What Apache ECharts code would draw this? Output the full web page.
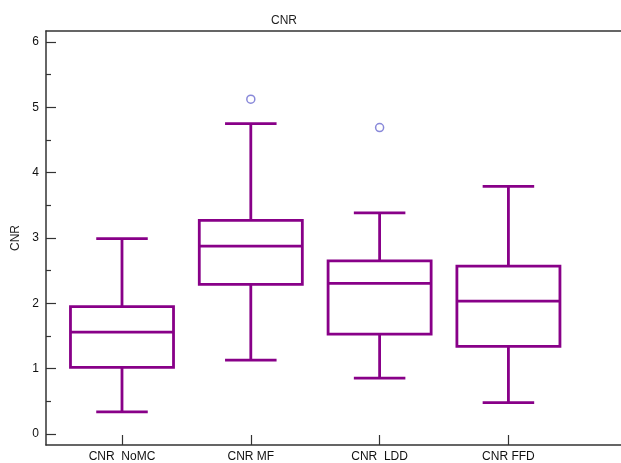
<!DOCTYPE html>
<html>
<head>
<meta charset="utf-8">
<script src="https://cdn.jsdelivr.net/npm/echarts@6/dist/echarts.min.js"></script>
<style>html,body{margin:0;padding:0;background:#fff}#c{width:621px;height:463px}</style>
</head>
<body>
<div id="c"></div>
<script>
var categories = ['CNR  NoMC', 'CNR MF', 'CNR  LDD', 'CNR FFD'];
var whiskerLow = [0.34, 1.13, 0.855, 0.48];
var q1 = [1.02, 2.29, 1.53, 1.34];
var median = [1.56, 2.875, 2.305, 2.035];
var q3 = [1.95, 3.27, 2.65, 2.57];
var whiskerHigh = [2.99, 4.75, 3.385, 3.79];
var outlierCat = [1, 2];
var outlierVal = [5.125, 4.69];
var yTicks = [0, 1, 2, 3, 4, 5, 6];
var yMinorTicks = [0.5, 1.5, 2.5, 3.5, 4.5, 5.5];

var boxData = categories.map(function (c, i) {
  return [i + 1, whiskerLow[i], q1[i], median[i], q3[i], whiskerHigh[i]];
});
var outData = outlierCat.map(function (ci, k) { return [ci + 1, outlierVal[k]]; });
var catPos = categories.map(function (c, i) { return i + 1; });

var LINE = '#880088';
var XMIN = 0.41, XMAX = 4.874;
var chart = echarts.init(document.getElementById('c'), null, {renderer: 'canvas'});
chart.setOption({
  animation: false,
  backgroundColor: '#fff',
  title: {
    text: 'CNR', left: 266, top: 10,
    textStyle: {fontFamily: 'Liberation Sans, Arial', fontSize: 12, fontWeight: 'normal', color: '#222'}
  },
  grid: {left: 46, top: 31, right: 0, bottom: 17, show: false},
  xAxis: [{
    type: 'value', min: XMIN, max: XMAX,
    splitLine: {show: false},
    axisLine: {show: true, onZero: false, lineStyle: {color: '#333', width: 1.5}},
    axisTick: {show: true, inside: true, length: 10, customValues: catPos, lineStyle: {color: '#333', width: 1.2}},
    axisLabel: {
      customValues: catPos, margin: 6, color: '#111', fontSize: 12, fontFamily: 'Liberation Sans, Arial',
      formatter: function (v) { return categories[Math.round(v) - 1] || ''; }
    }
  }, {
    type: 'value', min: XMIN, max: XMAX, position: 'top',
    splitLine: {show: false},
    axisLine: {show: true, onZero: false, lineStyle: {color: '#333', width: 1.5}},
    axisTick: {show: false},
    axisLabel: {show: false}
  }],
  yAxis: [{
    type: 'value', min: -0.168, max: 6.168,
    splitLine: {show: false},
    axisLine: {show: true, onZero: false, lineStyle: {color: '#333', width: 1.5}},
    axisTick: {show: true, inside: true, length: 10, customValues: yTicks, lineStyle: {color: '#333', width: 1.2}},
    axisLabel: {customValues: yTicks, margin: 7, color: '#111', fontSize: 12, fontFamily: 'Liberation Sans, Arial'}
  }, {
    type: 'value', min: -0.168, max: 6.168, position: 'left',
    name: 'CNR', nameLocation: 'middle', nameGap: 24, nameRotate: 90,
    nameTextStyle: {fontFamily: 'Liberation Sans, Arial', fontSize: 12, color: '#222'},
    splitLine: {show: false},
    axisLine: {show: false},
    axisTick: {show: true, inside: true, length: 5, customValues: yMinorTicks, lineStyle: {color: '#333', width: 1.2}},
    axisLabel: {show: false}
  }],
  series: [{
    type: 'custom',
    data: boxData,
    renderItem: function (params, api) {
      var x = api.value(0);
      var pLow = api.coord([x, api.value(1)]);
      var pQ1 = api.coord([x, api.value(2)]);
      var pMed = api.coord([x, api.value(3)]);
      var pQ3 = api.coord([x, api.value(4)]);
      var pHigh = api.coord([x, api.value(5)]);
      var hw = api.size([0.4, 0])[0];
      var cw = api.size([0.2, 0])[0];
      var cx = pMed[0];
      var st = {stroke: LINE, lineWidth: 2.8, fill: 'none'};
      return {
        type: 'group',
        children: [
          {type: 'rect', shape: {x: cx - hw, y: pQ3[1], width: 2 * hw, height: pQ1[1] - pQ3[1]}, style: st},
          {type: 'line', shape: {x1: cx - hw, y1: pMed[1], x2: cx + hw, y2: pMed[1]}, style: st},
          {type: 'line', shape: {x1: cx, y1: pQ3[1], x2: cx, y2: pHigh[1]}, style: st},
          {type: 'line', shape: {x1: cx, y1: pQ1[1], x2: cx, y2: pLow[1]}, style: st},
          {type: 'line', shape: {x1: cx - cw, y1: pHigh[1], x2: cx + cw, y2: pHigh[1]}, style: st},
          {type: 'line', shape: {x1: cx - cw, y1: pLow[1], x2: cx + cw, y2: pLow[1]}, style: st}
        ]
      };
    }
  }, {
    type: 'scatter',
    data: outData,
    symbol: 'circle', symbolSize: 8,
    itemStyle: {color: '#fff', borderColor: '#6a6ad0', borderWidth: 1.5}
  }]
});
</script>
</body>
</html>
